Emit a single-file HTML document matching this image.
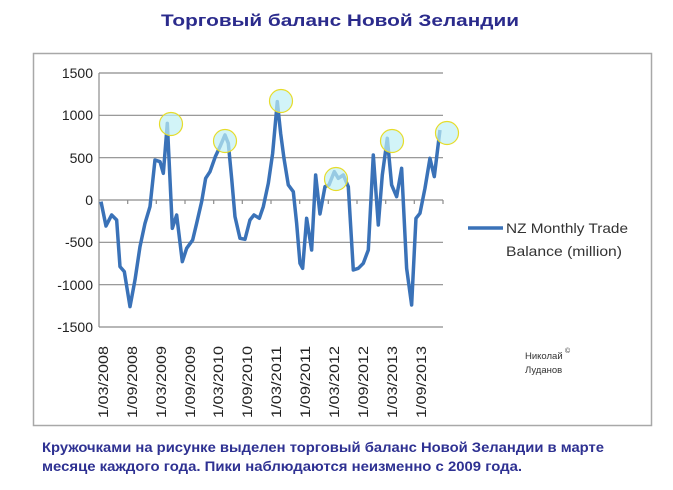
<!DOCTYPE html>
<html><head><meta charset="utf-8"><style>
body{margin:0;background:#fff;}
svg{display:block;}
</style></head><body>
<svg width="673" height="490" viewBox="0 0 673 490" xmlns="http://www.w3.org/2000/svg" font-family="Liberation Sans, DejaVu Sans, sans-serif">
<rect width="673" height="490" fill="#fff"/>
<text x="161" y="26" font-size="17" font-weight="bold" fill="#2b2b8c" textLength="358" lengthAdjust="spacingAndGlyphs">Торговый баланс Новой Зеландии</text>
<rect x="33.5" y="53.5" width="618" height="372" fill="#fff" stroke="#a8a8a8" stroke-width="1.5"/>
<g stroke="#8c8c8c" stroke-width="1.2">
<line x1="99" y1="73" x2="443" y2="73"/>
<line x1="99" y1="115.3" x2="443" y2="115.3"/>
<line x1="99" y1="157.7" x2="443" y2="157.7"/>
<line x1="99" y1="200" x2="443" y2="200"/>
<line x1="99" y1="242.3" x2="443" y2="242.3"/>
<line x1="99" y1="284.7" x2="443" y2="284.7"/>
<line x1="99" y1="327" x2="443" y2="327"/>
<line x1="99" y1="73" x2="99" y2="327"/>
<path d="M127.7 200v4M156.3 200v4M185 200v4M213.7 200v4M242.3 200v4M271 200v4M299.7 200v4M328.3 200v4M357 200v4M385.7 200v4M414.3 200v4M443 200v4"/>
</g>
<g font-size="14" fill="#222" text-anchor="end">
<text x="93" y="78">1500</text><text x="93" y="120">1000</text><text x="93" y="163">500</text><text x="93" y="205">0</text><text x="93" y="247">-500</text><text x="93" y="290">-1000</text><text x="93" y="332">-1500</text>
</g>
<g font-size="14" fill="#222" text-anchor="end">
<text transform="translate(108,346) rotate(-90)" textLength="72" lengthAdjust="spacingAndGlyphs">1/03/2008</text>
<text transform="translate(137,346) rotate(-90)" textLength="72" lengthAdjust="spacingAndGlyphs">1/09/2008</text>
<text transform="translate(166,346) rotate(-90)" textLength="72" lengthAdjust="spacingAndGlyphs">1/03/2009</text>
<text transform="translate(195,346) rotate(-90)" textLength="72" lengthAdjust="spacingAndGlyphs">1/09/2009</text>
<text transform="translate(223,346) rotate(-90)" textLength="72" lengthAdjust="spacingAndGlyphs">1/03/2010</text>
<text transform="translate(252,346) rotate(-90)" textLength="72" lengthAdjust="spacingAndGlyphs">1/09/2010</text>
<text transform="translate(281,346) rotate(-90)" textLength="72" lengthAdjust="spacingAndGlyphs">1/03/2011</text>
<text transform="translate(310,346) rotate(-90)" textLength="72" lengthAdjust="spacingAndGlyphs">1/09/2011</text>
<text transform="translate(339,346) rotate(-90)" textLength="72" lengthAdjust="spacingAndGlyphs">1/03/2012</text>
<text transform="translate(368,346) rotate(-90)" textLength="72" lengthAdjust="spacingAndGlyphs">1/09/2012</text>
<text transform="translate(397,346) rotate(-90)" textLength="72" lengthAdjust="spacingAndGlyphs">1/03/2013</text>
<text transform="translate(426,346) rotate(-90)" textLength="72" lengthAdjust="spacingAndGlyphs">1/09/2013</text>
</g>
<polyline fill="none" stroke="#3a72b8" stroke-linejoin="round" transform="translate(30,50) scale(0.3333)" points="213,455 228,528 245,495 260,510 270,650 283,665 300,770 315,690 330,590 345,520 360,470 375,330 390,335 400,370 412,220 427,535 440,495 457,635 470,595 488,570 500,520 515,455 527,385 540,365 556,320 570,290 585,255 595,280 605,385 615,500 630,565 645,568 660,510 672,495 688,505 700,470 715,400 728,310 742,155 752,250 762,325 775,405 790,425 800,520 810,640 818,655 830,505 845,600 857,375 870,492 885,410 897,405 913,365 925,385 940,375 955,410 970,660 985,655 1000,640 1015,600 1030,315 1045,525 1057,375 1072,265 1085,405 1100,440 1115,355 1130,655 1145,765 1158,505 1170,490 1185,415 1200,325 1213,380 1230,240" style="stroke-width:10.5"/>
<g fill="#bff0f5" fill-opacity="0.7" stroke="#e6dc2a" stroke-width="1.2">
<circle cx="171" cy="124" r="11.5"/>
<circle cx="225" cy="141" r="11.5"/>
<circle cx="281" cy="101" r="11.5"/>
<circle cx="336" cy="179" r="11.5"/>
<circle cx="392" cy="141" r="11.5"/>
<circle cx="447" cy="133" r="11.5"/>
</g>
<line x1="468" y1="228" x2="503" y2="228" stroke="#3a72b8" stroke-width="3.5"/>
<text x="506" y="233" font-size="14" fill="#333" textLength="122" lengthAdjust="spacingAndGlyphs">NZ Monthly Trade</text>
<text x="506" y="256" font-size="14" fill="#333" textLength="116" lengthAdjust="spacingAndGlyphs">Balance (million)</text>
<text x="525" y="359" font-size="9.5" fill="#333">Николай</text>
<text x="565" y="353" font-size="7" fill="#333">©</text>
<text x="525" y="373" font-size="9.5" fill="#333">Луданов</text>
<text x="42" y="452" font-size="14" font-weight="bold" fill="#2e3192" textLength="562" lengthAdjust="spacingAndGlyphs">Кружочками на рисунке выделен торговый баланс Новой Зеландии в марте</text>
<text x="42" y="471" font-size="14" font-weight="bold" fill="#2e3192" textLength="480" lengthAdjust="spacingAndGlyphs">месяце каждого года. Пики наблюдаются неизменно с 2009 года.</text>
</svg>
</body></html>
